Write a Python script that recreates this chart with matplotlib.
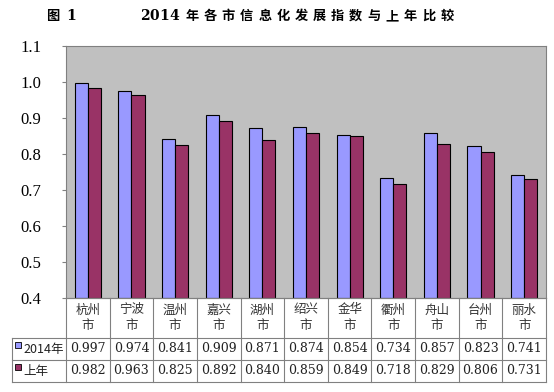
import matplotlib
matplotlib.use("Agg")
import matplotlib.pyplot as plt
import matplotlib.patches as mpatches
from matplotlib.transforms import blended_transform_factory

plt.rcParams['font.family'] = ['Noto Sans CJK SC', 'DejaVu Sans']

# ---------------------------------------------------------------------------
# Data
# ---------------------------------------------------------------------------

cities      = ["杭州\n市", "宁波\n市", "温州\n市", "嘉兴\n市", "湖州\n市", "绍兴\n市",
               "金华\n市", "衢州\n市", "舟山\n市", "台州\n市", "丽水\n市"]
values_2014 = [0.997, 0.974, 0.841, 0.909, 0.871, 0.874, 0.854, 0.734, 0.857, 0.823, 0.741]
values_prev = [0.982, 0.963, 0.825, 0.892, 0.840, 0.859, 0.849, 0.718, 0.829, 0.806, 0.731]
series_names = ["2014年", "上年"]
y_ticks     = [0.4, 0.5, 0.6, 0.7, 0.8, 0.9, 1.0, 1.1]
title_digits = "2014"
title_rest   = "年各市信息化发展指数与上年比较"

BLUE   = "#9999FF"
MAROON = "#993366"
GRID   = "#808080"

# ---------------------------------------------------------------------------
# Figure / axes (pixel layout of 554x392)
# ---------------------------------------------------------------------------

W, H = 554, 392
fig = plt.figure(figsize=(W / 100, H / 100), dpi=100)
ax_l, ax_r, ax_t, ax_b = 66, 546, 46, 298
ax = fig.add_axes([ax_l / W, 1 - ax_b / H, (ax_r - ax_l) / W, (ax_b - ax_t) / H])
ax.set_facecolor("#C0C0C0")

n = len(cities)
x = list(range(n))
bw = 0.3
ax.bar([i - bw / 2 for i in x], [v - 0.4 for v in values_2014], bottom=0.4, width=bw,
       color=BLUE, edgecolor="black", linewidth=0.8)
ax.bar([i + bw / 2 for i in x], [v - 0.4 for v in values_prev], bottom=0.4, width=bw,
       color=MAROON, edgecolor="black", linewidth=0.8)

ax.set_xlim(-0.5, n - 0.5)
ax.set_ylim(0.4, 1.1)
ax.set_yticks(y_ticks)
ax.set_yticklabels([f"{t:.1f}" for t in y_ticks], family="Liberation Serif", fontsize=12)
ax.tick_params(axis="y", length=3, color=GRID, pad=15)
ax.set_xticks([])
for s in ax.spines.values():
    s.set_color(GRID)
    s.set_linewidth(0.8)

# ---------------------------------------------------------------------------
# Data table under the plot
# ---------------------------------------------------------------------------

hpx = ax_b - ax_t
row_edges = [0, -(338 - ax_b) / hpx, -(360 - ax_b) / hpx, -(382 - ax_b) / hpx]
trans = blended_transform_factory(ax.transData, ax.transAxes)
tax = ax.transAxes
left_x = (12 - ax_l) / (ax_r - ax_l)

# horizontal lines
ax.plot([-0.5, n - 0.5], [row_edges[0]] * 2, transform=trans, color=GRID, lw=0.8, clip_on=False)
for ye in row_edges[1:]:
    ax.plot([left_x, 1], [ye] * 2, transform=tax, color=GRID, lw=0.8, clip_on=False)
# vertical lines
for i in range(n + 1):
    ax.plot([i - 0.5] * 2, [row_edges[0], row_edges[3]], transform=trans,
            color=GRID, lw=0.8, clip_on=False)
ax.plot([left_x] * 2, [row_edges[1], row_edges[3]], transform=tax,
        color=GRID, lw=0.8, clip_on=False)

for i, c in enumerate(cities):
    ax.text(i, (row_edges[0] + row_edges[1]) / 2, c, transform=trans, ha="center",
            va="center", fontsize=9, color="#333333", linespacing=1.3)
    ax.text(i, (row_edges[1] + row_edges[2]) / 2, f"{values_2014[i]:.3f}", transform=trans,
            ha="center", va="center", fontsize=9, family="DejaVu Serif", color="#222222")
    ax.text(i, (row_edges[2] + row_edges[3]) / 2, f"{values_prev[i]:.3f}", transform=trans,
            ha="center", va="center", fontsize=9, family="DejaVu Serif", color="#222222")

# legend keys in the row headers
for r, (name, col) in enumerate(zip(series_names, [BLUE, MAROON])):
    yc = (row_edges[r + 1] + row_edges[r + 2]) / 2
    sq_w = 6 / (ax_r - ax_l)
    sq_h = 6 / hpx
    ax.add_patch(mpatches.Rectangle((left_x + 3 / (ax_r - ax_l), yc + 1 / hpx), sq_w, sq_h,
                                    transform=tax, facecolor=col, edgecolor="black",
                                    linewidth=0.6, clip_on=False))
    ax.text(left_x + 11 / (ax_r - ax_l), yc, name, transform=tax, ha="left", va="center",
            fontsize=9, color="#222222")

# ---------------------------------------------------------------------------
# Title (letter-spaced, one glyph at a time)
# ---------------------------------------------------------------------------

ty = 1 - 16 / H
fig.text(53 / W, ty, "图", fontsize=9.5, fontweight="bold", va="center", ha="center")
fig.text(71 / W, ty, "1", fontsize=10, fontweight="bold", va="center", ha="center",
         family="DejaVu Serif")
for k, ch in enumerate(title_digits):
    fig.text((145 + 9.6 * k) / W, ty, ch, fontsize=10, fontweight="bold", va="center",
             ha="center", family="DejaVu Serif")
for k, ch in enumerate(title_rest):
    fig.text((192 + 18.2 * k) / W, ty, ch, fontsize=9.5, fontweight="bold", va="center",
             ha="center")

fig.savefig("out.png", dpi=100)
